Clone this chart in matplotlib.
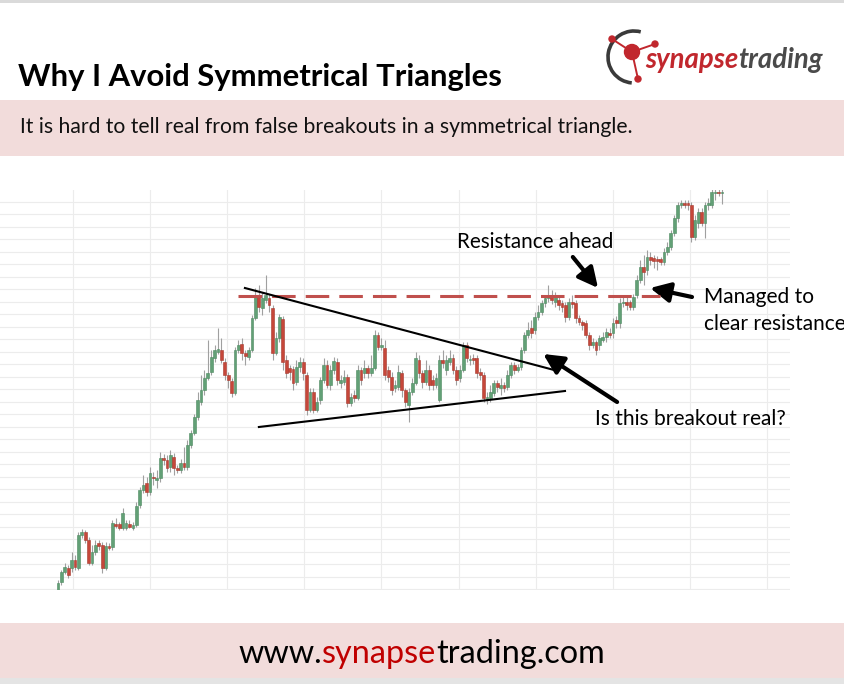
import numpy as np
import matplotlib
matplotlib.use("Agg")
import matplotlib.pyplot as plt
from matplotlib.patches import Rectangle, Circle, Arc

plt.rcParams['font.family'] = ['Lato', 'DejaVu Sans']

# daily candles, oldest first (price units)
opens = [
    10, 18, 28, 32, 32, 40, 32, 65, 68, 60,
    37, 48, 57, 55, 32, 54, 53, 76, 76, 72,
    72, 76, 72, 75, 95, 110, 117, 108, 123, 120,
    122, 142, 140, 133, 143, 132, 130, 137, 133, 155,
    167, 183, 198, 210, 222, 228, 242, 248, 250, 238,
    225, 219, 207, 250, 256, 247, 243, 250, 282, 303,
    292, 300, 302, 292, 247, 262, 281, 240, 232, 231,
    218, 233, 238, 225, 190, 208, 190, 200, 220, 235,
    215, 230, 238, 217, 218, 223, 197, 205, 202, 230,
    227, 232, 227, 232, 265, 253, 252, 230, 223, 212,
    213, 227, 210, 195, 208, 217, 240, 227, 218, 230,
    220, 215, 200, 240, 230, 238, 242, 230, 222, 230,
    255, 240, 242, 242, 228, 225, 200, 202, 207, 217,
    212, 215, 213, 225, 235, 230, 233, 250, 265, 272,
    270, 283, 288, 297, 302, 305, 298, 300, 297, 295,
    283, 298, 297, 282, 278, 277, 265, 255, 258, 255,
    260, 263, 267, 267, 280, 277, 297, 298, 298, 293,
    305, 320, 333, 330, 343, 342, 341, 341, 338, 348,
    353, 367, 382, 395, 397, 397, 395, 363, 377, 388,
    377, 395, 395, 407, 408, 407,
]
closes = [
    17, 28, 33, 25, 40, 33, 65, 68, 60, 37,
    48, 55, 54, 32, 54, 52, 77, 74, 72, 87,
    77, 73, 75, 94, 110, 115, 108, 127, 122, 122,
    142, 140, 132, 145, 132, 130, 137, 133, 155, 167,
    183, 200, 210, 222, 227, 243, 250, 251, 240, 225,
    220, 207, 250, 255, 247, 244, 250, 282, 305, 293,
    302, 305, 295, 247, 262, 283, 238, 227, 228, 217,
    233, 238, 227, 190, 208, 190, 198, 220, 235, 215,
    230, 239, 220, 220, 223, 197, 203, 202, 230, 220,
    232, 227, 232, 265, 253, 255, 225, 223, 210, 215,
    228, 210, 198, 208, 217, 242, 227, 218, 230, 215,
    215, 222, 240, 237, 240, 242, 230, 220, 230, 255,
    242, 241, 240, 227, 225, 202, 203, 208, 217, 213,
    215, 212, 225, 235, 230, 233, 250, 265, 270, 267,
    283, 288, 297, 302, 305, 300, 303, 295, 293, 283,
    298, 296, 282, 278, 275, 265, 255, 258, 250, 262,
    263, 268, 265, 277, 277, 297, 298, 295, 293, 303,
    320, 333, 328, 343, 340, 339, 339, 338, 348, 353,
    367, 382, 395, 397, 395, 395, 363, 380, 388, 377,
    395, 397, 408, 408, 407, 408,
]
highs = [
    20, 30, 37, 35, 48, 45, 68, 71, 70, 63,
    55, 60, 60, 58, 58, 57, 80, 82, 78, 92,
    80, 80, 78, 98, 113, 125, 123, 133, 128, 130,
    148, 146, 145, 150, 147, 135, 141, 153, 160, 170,
    186, 208, 225, 230, 260, 250, 255, 272, 262, 242,
    228, 222, 253, 260, 262, 250, 253, 285, 312, 315,
    308, 325, 306, 295, 268, 286, 284, 245, 235, 234,
    240, 243, 242, 228, 212, 212, 203, 223, 242, 240,
    235, 243, 242, 225, 230, 226, 207, 210, 235, 233,
    240, 235, 245, 270, 268, 262, 260, 234, 228, 220,
    235, 230, 212, 212, 222, 248, 245, 230, 240, 235,
    225, 227, 245, 250, 245, 250, 246, 234, 235, 258,
    258, 245, 246, 245, 232, 228, 208, 215, 220, 220,
    222, 218, 230, 238, 238, 236, 253, 268, 278, 280,
    288, 295, 300, 305, 315, 310, 308, 305, 300, 298,
    302, 305, 300, 285, 280, 280, 268, 262, 260, 265,
    268, 272, 272, 282, 284, 302, 303, 303, 300, 306,
    325, 340, 345, 350, 348, 345, 344, 343, 352, 358,
    370, 385, 398, 400, 400, 400, 398, 385, 392, 392,
    398, 402, 412, 412, 412, 412,
]
lows = [
    8, 15, 26, 22, 28, 30, 30, 62, 57, 35,
    35, 45, 50, 27, 30, 50, 50, 72, 70, 70,
    70, 72, 70, 73, 92, 107, 104, 105, 115, 112,
    118, 135, 128, 128, 125, 127, 127, 130, 130, 152,
    165, 180, 195, 205, 220, 225, 238, 246, 237, 220,
    212, 203, 205, 247, 240, 235, 240, 248, 280, 288,
    285, 297, 288, 240, 245, 258, 230, 222, 220, 210,
    215, 228, 220, 185, 188, 187, 188, 196, 217, 212,
    210, 226, 215, 212, 215, 193, 194, 198, 200, 215,
    222, 222, 224, 230, 250, 250, 220, 218, 205, 208,
    210, 203, 193, 178, 205, 215, 222, 212, 215, 210,
    210, 212, 198, 232, 225, 235, 226, 215, 218, 228,
    238, 235, 236, 222, 220, 198, 196, 198, 204, 208,
    205, 208, 210, 222, 226, 228, 230, 247, 262, 262,
    266, 280, 285, 293, 298, 296, 293, 290, 288, 278,
    280, 292, 277, 275, 270, 262, 250, 252, 245, 250,
    258, 258, 262, 262, 272, 272, 293, 290, 290, 290,
    302, 317, 315, 325, 335, 332, 330, 335, 335, 345,
    350, 364, 378, 392, 392, 390, 358, 360, 372, 374,
    362, 390, 392, 400, 404, 396,
]

# drawn-in levels (candle index, price)
resistance = 304
res_span = (52.9, 176.8)
upper_trend = ((54.9, 312), (146.8, 229))
lower_trend = ((59.0, 173), (148.9, 209))

W, H = 845, 684
fig = plt.figure(figsize=(W / 100, H / 100), dpi=100)

# background layer in pixel coords
bg = fig.add_axes([0, 0, 1, 1])
bg.set_xlim(0, W)
bg.set_ylim(H, 0)
bg.axis('off')
bg.add_patch(Rectangle((0, 0), W, 3, color='#dadada', lw=0))
bg.add_patch(Rectangle((0, 100), W, 56, color='#f2dcdb', lw=0))
bg.add_patch(Rectangle((0, 623), W, 55, color='#f2dcdb', lw=0))
bg.add_patch(Rectangle((0, 678), W, 6, color='#e4e4e4', lw=0))

# price chart
ax = fig.add_axes([0, 1 - 590 / H, 790 / W, 400 / H])
ax.patch.set_visible(False)
o, h, l, c = (np.array(v, dtype=float) for v in (opens, highs, lows, closes))
idx = np.arange(len(o))
up = c >= o
ax.vlines(idx, l, h, color='#a0a0a0', lw=0.8, zorder=2)
ax.bar(idx[up], np.maximum((c - o)[up], 0.8), bottom=o[up], width=0.82,
       color='#62a076', edgecolor='#4c8960', lw=0.4, zorder=3)
ax.bar(idx[~up], np.maximum((o - c)[~up], 0.8), bottom=c[~up], width=0.82,
       color='#c6473a', edgecolor='#a6392e', lw=0.4, zorder=3)

ax.set_xlim(-17.03, 214.98)
ax.set_ylim(10, 410)
ax.set_xticks(np.arange(4.4, 215, 22.65))
ax.set_yticks(np.arange(11, 411, 12.5))
ax.grid(color='#ececec', lw=0.8)
ax.set_axisbelow(True)
ax.tick_params(length=0, labelbottom=False, labelleft=False)
for s in ax.spines.values():
    s.set_visible(False)

ax.plot(res_span, [resistance, resistance], color='#c0504d', lw=2.2,
        dashes=(7.7, 3.3), zorder=4)
ax.plot(*zip(*upper_trend), color='black', lw=1.5, zorder=4)
ax.plot(*zip(*lower_trend), color='black', lw=1.5, zorder=4)

arrow = dict(arrowstyle='-|>,head_length=0.6,head_width=0.3', lw=3,
             color='black', shrinkA=0, shrinkB=0, mutation_scale=20)
ax.annotate('', xy=(142.5, 246), xytext=(164.2, 198), arrowprops=arrow, annotation_clip=False)
ax.annotate('', xy=(158.6, 312), xytext=(151.2, 343), arrowprops=arrow, annotation_clip=False)
ax.annotate('', xy=(173.9, 312), xytext=(186.2, 303), arrowprops=arrow, annotation_clip=False)

# overlay layer: texts + logo
ov = fig.add_axes([0, 0, 1, 1])
ov.set_xlim(0, W)
ov.set_ylim(H, 0)
ov.axis('off')
ov.patch.set_visible(False)

ov.text(18, 86, 'Why I Avoid Symmetrical Triangles', fontsize=22.3,
        fontweight='bold', va='baseline')
ov.text(20, 133, 'It is hard to tell real from false breakouts in a symmetrical triangle.',
        fontsize=15.2, va='baseline', color='#111111')
ov.text(457, 248, 'Resistance ahead', fontsize=14.9, va='baseline')
ov.text(595, 425, 'Is this breakout real?', fontsize=15.1, va='baseline')
ov.text(704, 303, 'Managed to', fontsize=15, va='baseline')
ov.text(704, 330, 'clear resistance', fontsize=15, va='baseline')

# logo
ov.add_patch(Arc((634, 57), 52, 52, theta1=95, theta2=285, color='#3a3a3a', lw=2.6))
ov.plot([632, 612], [52, 39], color='#c1272d', lw=1.4)
ov.plot([632, 655], [52, 44], color='#c1272d', lw=1.4)
ov.plot([632, 638], [52, 79], color='#c1272d', lw=1.4)
for cx, cy, r in [(612, 39, 3), (655, 44, 3), (638, 79, 3), (632, 52, 7.5)]:
    ov.add_patch(Circle((cx, cy), r, color='#c1272d', zorder=5))

fig.canvas.draw()
renderer = fig.canvas.get_renderer()


def chain(parts, x, y, **kw):
    texts = [ov.text(x, y, s, color=col, va='baseline', **kw) for s, col in parts]
    fig.canvas.draw()
    for t in texts:
        t.set_x(x)
        x += t.get_window_extent(renderer).width
    return x


chain([('synapse', '#c1272d'), ('trading', '#4a4a4a')], 645, 68,
      fontsize=19.8, fontweight='bold', fontstyle='italic')

footer = [('www.', '#000000'), ('synapse', '#c00000'), ('trading.com', '#000000')]
probe = [ov.text(0, 0, s, fontsize=23.3) for s, _ in footer]
fig.canvas.draw()
total = sum(t.get_window_extent(renderer).width for t in probe)
for t in probe:
    t.remove()
chain(footer, 422 - total / 2, 663, fontsize=23.3)

fig.savefig('out.png', dpi=100)
